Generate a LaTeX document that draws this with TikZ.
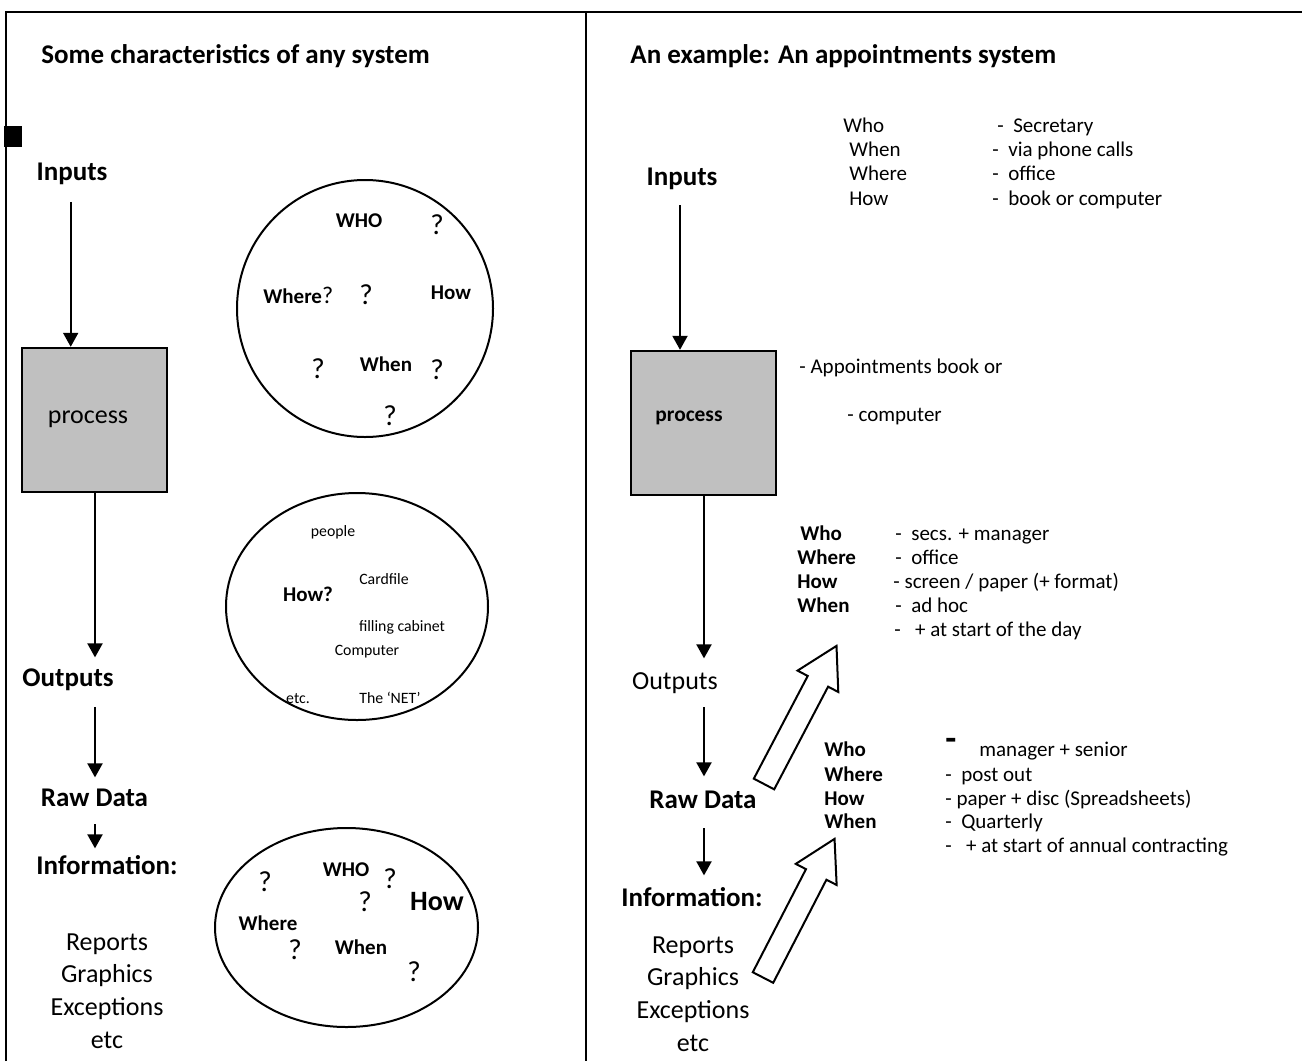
\documentclass[tikz,border=0pt]{standalone}
\usepackage{fontspec}
\setmainfont{Carlito}
\usetikzlibrary{arrows.meta,shapes.geometric}
\definecolor{boxgray}{RGB}{192,192,192}
\begin{document}
\begin{tikzpicture}[x=0.5pt,y=-0.5pt,
  lbl/.style={inner sep=0pt, anchor=mid, yshift=-2pt},
  titlef/.style={inner sep=0pt, anchor=mid west, yshift=-2pt, font=\fontsize{13.5}{16}\selectfont\bfseries},
  bigb/.style={lbl, text height=9pt, text depth=3pt, font=\fontsize{13.5}{16}\selectfont\bfseries},
  bigr/.style={lbl, text height=9pt, text depth=3pt, font=\fontsize{13}{16}\selectfont},
  sm/.style={inner sep=0pt, anchor=mid west, yshift=-2pt, font=\fontsize{10.5}{12}\selectfont},
  smb/.style={sm, font=\fontsize{10.5}{12}\selectfont\bfseries},
  medb/.style={lbl, font=\fontsize{10.7}{12}\selectfont\bfseries},
  qb/.style={lbl, font=\fontsize{10.5}{12}\selectfont\bfseries},
  qm/.style={lbl, font=\fontsize{14.5}{16}\selectfont},
  tinyt/.style={lbl, font=\fontsize{7.9}{9}\selectfont},
  flow/.style={line width=1pt, -{Triangle[width=7.5pt,length=7pt]}},
  procbox/.style={draw, line width=1.2pt, fill=boxgray, minimum width=72.5pt, minimum height=72pt, inner sep=0pt},
  oval/.style={draw, line width=1pt, ellipse, inner sep=0pt},
  hollowarrow/.pic={\draw[line width=1pt, fill=white] (0,-11.5) -- (116,-11.5) -- (116,-23) -- (156,0) -- (116,23) -- (116,11.5) -- (0,11.5) -- cycle;}
]
\useasboundingbox (0,0) rectangle (1302,1061);
% frame
\draw[line width=1pt] (6,1061) -- (6,12) -- (1302,12);
\draw[line width=1pt] (586,12) -- (586,1061);
\fill (4,126) rectangle (22,147);

% titles
\node[titlef] (t1) at (41,55) {Some characteristics of any system};
\node[titlef] (t2) at (630,55) {An example: An appointments system};

% ---------- left column
\coordinate (ax1) at (70.7,0);
\coordinate (ax2) at (95,0);
\node[bigb] (in1) at (72,172) {Inputs};
\node[procbox] (p1) at (94.5,420) {};
\node[bigr] (pt1) at (88,415) {process};
\node[bigb] (out1) at (68,678) {Outputs};
\node[bigb] (raw1) at (94.5,798) {Raw Data};
\node[bigb] (info1) at (107,866) {Information:};
\node[bigr] (rep1) at (107,942) {Reports};
\node[bigr] (gra1) at (107,974) {Graphics};
\node[bigr] (exc1) at (107,1007) {Exceptions};
\node[bigr] (etc1) at (107,1040) {etc};

\draw[flow, shorten <=7.4pt] (in1.south -| ax1) -- (p1.north -| ax1);
\draw[flow, shorten >=5.5pt] (p1.south -| ax2) -- (out1.north -| ax2);
\draw[flow, shorten <=6.9pt, shorten >=5.5pt] (out1.south -| ax2) -- (raw1.north -| ax2);
\draw[flow, shorten <=5.5pt, shorten >=4pt] (raw1.south -| ax2) -- (info1.north -| ax2);

% ellipse 1
\node[oval, minimum width=128pt, minimum height=128.5pt] (e1) at (365,308.5) {};
\node[qb] (e1who) at (359,219) {WHO};
\node[qm] (e1q1) at (437,226) {?};
\node[qb, anchor=mid west] (e1where) at (263,295) {Where{\mdseries\fontsize{12}{14}\selectfont ?}};
\node[qm] (e1q2) at (366,296) {?};
\node[qb] (e1how) at (451,291) {How};
\node[qm] (e1q3) at (318,370) {?};
\node[qb] (e1when) at (386,363) {When};
\node[qm] (e1q4) at (437,371) {?};
\node[qm] (e1q5) at (390,417) {?};

% ellipse 2
\node[oval, minimum width=131pt, minimum height=113.5pt] (e2) at (357,606.5) {};
\node[tinyt] (e2a) at (333,528) {people};
\node[tinyt] (e2b) at (384,576) {Cardfile};
\node[qb] (e2how) at (308,593) {How?};
\node[tinyt] (e2c) at (402,623) {filling cabinet};
\node[tinyt] (e2d) at (367,647) {Computer};
\node[tinyt] (e2e) at (298,695) {etc.};
\node[tinyt] (e2f) at (390,695) {The ‘NET’};

% ellipse 3
\node[oval, minimum width=131.5pt, minimum height=99.5pt] (e3) at (346.5,927.5) {};
\node[qm] (e3q1) at (265,883) {?};
\node[qb] (e3who) at (346,868) {WHO};
\node[qm] (e3q2) at (390,880) {?};
\node[qm] (e3q3) at (365,903) {?};
\node[lbl, font=\fontsize{14}{16}\selectfont\bfseries] (e3how) at (437,902) {How};
\node[qb] (e3where) at (268,922) {Where};
\node[qm] (e3q4) at (295,951) {?};
\node[qb] (e3when) at (361,946) {When};
\node[qm] (e3q5) at (414,973) {?};

% ---------- right column
\coordinate (ax3) at (680,0);
\coordinate (ax4) at (704,0);
\node[bigb] (in2) at (682,177) {Inputs};
\node[procbox] (p2) at (703.5,423) {};
\node[medb] (pt2) at (689,413) {process};
\node[sm] (ap1) at (799,365) {- Appointments book or};
\node[sm] (ap2) at (847,413) {- computer};
\node[bigr] (out2) at (675,681) {Outputs};
\node[bigb] (raw2) at (703,800) {Raw Data};
\node[bigb] (info2) at (692,898) {Information:};
\node[bigr] (rep2) at (693,945) {Reports};
\node[bigr] (gra2) at (693,977) {Graphics};
\node[bigr] (exc2) at (693,1010) {Exceptions};
\node[bigr] (etc2) at (693,1043) {etc};

\draw[flow, shorten <=6.5pt] (in2.south -| ax3) -- (p2.north -| ax3);
\draw[flow, shorten >=6.5pt] (p2.south -| ax4) -- (out2.north -| ax4);
\draw[flow, shorten <=5.5pt, shorten >=7pt] (out2.south -| ax4) -- (raw2.north -| ax4);
\draw[flow, shorten <=6.5pt, shorten >=6.5pt] (raw2.south -| ax4) -- (info2.north -| ax4);

% top block
\node[sm] (a1) at (843,124) {Who};
\node[sm] (a1v) at (997,124) {-~~Secretary};
\node[sm] (a2) at (849,148) {When};
\node[sm] (a2v) at (992,148) {-~~via phone calls};
\node[sm] (a3) at (849,172) {Where};
\node[sm] (a3v) at (992,172) {-~~office};
\node[sm] (a4) at (849,197) {How};
\node[sm] (a4v) at (992,197) {-~~book or computer};

% middle block
\node[smb] (b1) at (800,532) {Who};
\node[sm] (b1v) at (895,532) {-~~secs. + manager};
\node[smb] (b2) at (797,556) {Where};
\node[sm] (b2v) at (895,556) {-~~office};
\node[smb] (b3) at (797,580) {How};
\node[sm] (b3v) at (893,580) {- screen / paper (+ format)};
\node[smb] (b4) at (797,604) {When};
\node[sm] (b4v) at (895,604) {-~~ad hoc};
\node[sm] (b5v) at (894,628) {-~~~+ at start of the day};

% bottom block
\node[smb] (c1) at (824,748) {Who};
\node[lbl, font=\fontsize{18}{20}\selectfont\bfseries] (c1d) at (951,742) {-};
\node[sm] (c1v) at (979,748) {manager + senior};
\node[smb] (c2) at (824,773) {Where};
\node[sm] (c2v) at (945,773) {-~~post out};
\node[smb] (c3) at (824,797) {How};
\node[sm] (c3v) at (945,797) {- paper + disc (Spreadsheets)};
\node[smb] (c4) at (824,820) {When};
\node[sm] (c4v) at (945,820) {-~~Quarterly};
\node[sm] (c5v) at (945,844) {-~~~+ at start of annual contracting};

% hollow block arrows
\pic[rotate=62.3] at (764,784) {hollowarrow};
\pic[rotate=62.7] at (763,977.5) {hollowarrow};
\end{tikzpicture}
\end{document}
